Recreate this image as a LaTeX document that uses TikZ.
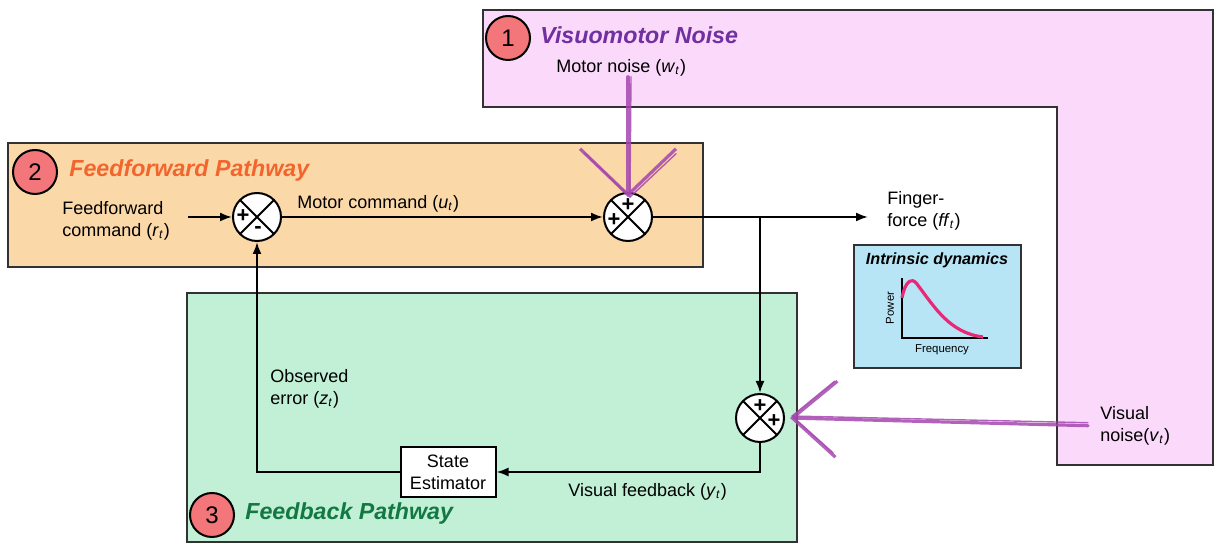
\documentclass[tikz,border=0pt]{standalone}
\usepackage{fontspec}
\setmainfont{Liberation Sans}
\usetikzlibrary{arrows.meta}

\definecolor{pinkfill}{RGB}{250,217,250}
\definecolor{orangefill}{RGB}{251,216,168}
\definecolor{greenfill}{RGB}{193,240,214}
\definecolor{bluefill}{RGB}{184,229,245}
\definecolor{numred}{RGB}{243,118,122}
\definecolor{edgegray}{RGB}{50,50,50}
\definecolor{titlepurple}{RGB}{112,48,160}
\definecolor{titleorange}{RGB}{242,101,45}
\definecolor{titlegreen}{RGB}{20,120,66}
\definecolor{noisepurple}{RGB}{165,70,175}
\definecolor{curvepink}{RGB}{233,40,120}

\newcommand{\vsub}[1]{\textit{#1}\textsubscript{\textit{t}}}

\begin{document}
\begin{tikzpicture}[x=0.5pt,y=-0.5pt,
  region/.style={draw=edgegray, line width=1pt},
  numcirc/.style={circle, draw=black, line width=1pt, fill=numred, minimum size=22pt, inner sep=0pt, font=\fontsize{12}{14}\selectfont},
  paneltitle/.style={anchor=west, inner sep=0pt, font=\fontsize{11.6}{13}\selectfont\bfseries\itshape},
  lbl/.style={anchor=west, inner sep=0pt, align=left, font=\fontsize{9}{11}\selectfont},
  sumnode/.style={circle, draw=black, line width=1pt, fill=white, minimum size=24pt, inner sep=0pt,
    path picture={\draw[line width=1pt] (path picture bounding box.north west) -- (path picture bounding box.south east)
      (path picture bounding box.north east) -- (path picture bounding box.south west);}},
  sgn/.style={inner sep=0pt, font=\fontsize{11}{11}\selectfont\bfseries},
  sig/.style={line width=1pt, -{Latex[length=6pt,width=4.5pt]}},
  noisearrow/.style={draw=noisepurple, line width=1.6pt, opacity=0.85, line cap=round}
]
\useasboundingbox (0,0) rectangle (1217,544);

\fill[pinkfill] (483,10) -- (1213,10) -- (1213,465) -- (1057,465) -- (1057,107) -- (483,107) -- cycle;
\draw[region] (483,10) -- (1213,10) -- (1213,465) -- (1057,465) -- (1057,107) -- (483,107) -- cycle;
\draw[region, fill=orangefill] (8,143) rectangle (703,267);
\draw[region, fill=greenfill] (187,293) rectangle (797,542);
\draw[region, fill=bluefill] (854,245) rectangle (1021,368);

\node[numcirc] (n1) at (508,38) {1};
\node[numcirc] (n2) at (35,172) {2};
\node[numcirc] (n3) at (212,515) {3};
\node[paneltitle, text=titlepurple] (t1) at (540,35) {Visuomotor Noise};
\node[paneltitle, text=titleorange] (t2) at (69,171) {Feedforward Pathway};
\node[paneltitle, text=titlegreen] (t3) at (245,514) {Feedback Pathway};

\node[sumnode] (s1) at (257,217) {};
\node[sumnode] (s2) at (628,217) {};
\node[sumnode] (s3) at (760,418) {};
\node[sgn] at ([shift={(-14,-1)}]s1.center) {+};
\node[sgn] at ([shift={(1,13)}]s1.center) {-};
\node[sgn] at ([shift={(0,-12)}]s2.center) {+};
\node[sgn] at ([shift={(-14,3)}]s2.center) {+};
\node[sgn] at ([shift={(0,-12)}]s3.center) {+};
\node[sgn] at ([shift={(14,3)}]s3.center) {+};

\node[lbl] (ffcmd) at (62,221) {Feedforward\\command (\vsub{r})};
\node[lbl] (mcmd) at (297,204) {Motor command (\vsub{u})};
\node[lbl] (mnoise) at (556,68) {Motor noise (\vsub{w})};
\node[lbl] (force) at (887,211) {Finger-\\force (\vsub{ff})};
\node[lbl] (obserr) at (270,389) {Observed\\error (\vsub{z})};
\node[lbl] (vfb) at (568,492) {Visual feedback (\vsub{y})};
\node[lbl] (vnoise) at (1100,426) {Visual\\noise(\vsub{v})};

\node[draw=black, line width=1pt, fill=white, minimum width=47.5pt, minimum height=25pt, inner sep=1pt,
  align=center, font=\fontsize{9}{11}\selectfont] (est) at (448,472) {State\\Estimator};

\coordinate (ffin) at (188,217);
\coordinate (ffout) at (868,217);
\coordinate (branch) at (760,217);
\draw[sig] (ffin) -- (s1.west);
\draw[sig] (s1.east) -- (s2.west);
\draw[sig] (s2.east) -- (ffout);
\draw[sig] (branch) -- (s3.north);
\draw[sig] (s3.south) |- (est.east);
\draw[sig] (est.west) -| (s1.south);

\draw[noisearrow, -{Straight Barb[length=23pt,width=48pt]}] (s2.north |- mnoise.south) -- ([yshift=-2.5pt]s2.north);
\draw[noisearrow, line width=0.7pt, -{Straight Barb[length=22pt,width=46pt]}] ([xshift=1.5pt]s2.north |- mnoise.south) -- ([shift={(1pt,-3pt)}]s2.north);
\draw[noisearrow, shorten <=6pt, -{Straight Barb[length=22pt,width=38pt]}] (vnoise.west) -- ([xshift=2.5pt]s3.east);
\draw[noisearrow, shorten <=6pt, line width=0.7pt, -{Straight Barb[length=21pt,width=36pt]}] ([yshift=1.5pt]vnoise.west) -- ([shift={(3pt,1pt)}]s3.east);

\node[inner sep=0pt, font=\fontsize{8.1}{9}\selectfont\bfseries\itshape] (idtitle) at (937,260) {Intrinsic dynamics};
\coordinate (origin) at (902,338);
\draw[line width=0.8pt] (902,278) -- (origin) -- (988,338);
\draw[curvepink, line width=1.6pt] (902,298) .. controls (905,281) and (912,277) .. (917,284)
  .. controls (935,308) and (950,333) .. (983,337);
\node[inner sep=0pt, rotate=90, font=\fontsize{5.7}{7}\selectfont] (power) at (890,308) {Power};
\node[inner sep=0pt, font=\fontsize{5.7}{7}\selectfont] (freq) at (942,350) {Frequency};
\end{tikzpicture}
\end{document}
